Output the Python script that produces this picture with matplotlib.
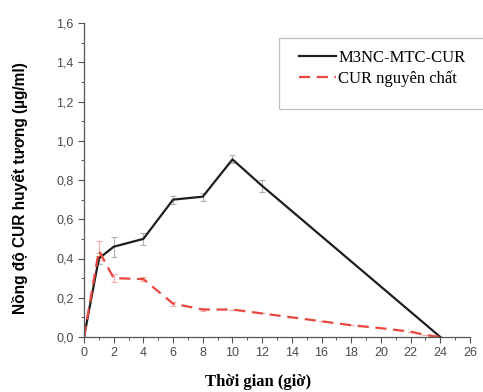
import matplotlib
matplotlib.use("Agg")
import matplotlib.pyplot as plt
from matplotlib.ticker import MultipleLocator, FuncFormatter
from matplotlib.patches import Rectangle

# Data
t_m3nc = [0, 1, 2, 4, 6, 8, 10, 12, 24]
y_m3nc = [0.0, 0.40, 0.46, 0.50, 0.70, 0.715, 0.905, 0.77, 0.0]
e_m3nc = [0.0, 0.03, 0.05, 0.03, 0.02, 0.02, 0.02, 0.03, 0.0]

t_cur = [0, 1, 2, 4, 6, 8, 10, 12, 14, 16, 18, 20, 22, 23, 24]
y_cur = [0.0, 0.44, 0.30, 0.295, 0.17, 0.14, 0.14, 0.12, 0.10, 0.08, 0.06, 0.045, 0.027, 0.01, 0.0]
e_cur = [0.0, 0.05, 0.02, 0.01, 0.01, 0.01, 0.0, 0.0, 0.0, 0.0, 0.0, 0.0, 0.0, 0.0, 0.0]

labels = ["M3NC-MTC-CUR", "CUR nguyên chất"]
xlabel = "Thời gian (giờ)"
ylabel = "Nồng độ CUR huyết tương (µg/ml)"

W, H = 483, 392
fig = plt.figure(figsize=(W / 100, H / 100), dpi=100)
ax = fig.add_axes([84 / W, 1 - 337 / H, 386 / W, 314 / H])

ax.errorbar(t_m3nc, y_m3nc, yerr=e_m3nc, fmt='none', ecolor='#b0b0b0', elinewidth=0.8, capsize=2, capthick=0.8)
ax.errorbar(t_cur, y_cur, yerr=e_cur, fmt='none', ecolor='#f4a8a8', elinewidth=0.8, capsize=2, capthick=0.8)
l1, = ax.plot(t_m3nc, y_m3nc, color='#1e1e1e', lw=1.6, label=labels[0])
l2, = ax.plot(t_cur, y_cur, color='#e8473f', lw=1.6, ls=(0, (5, 3)), label=labels[1])

ax.set_xlim(0, 26)
ax.set_ylim(0, 1.6)
ax.xaxis.set_major_locator(MultipleLocator(2))
ax.xaxis.set_minor_locator(MultipleLocator(1))
ax.yaxis.set_major_locator(MultipleLocator(0.2))
ax.yaxis.set_minor_locator(MultipleLocator(0.1))
ax.yaxis.set_major_formatter(FuncFormatter(lambda v, p: f"{v:.1f}".replace('.', ',')))

for s in ['top', 'right']:
    ax.spines[s].set_visible(False)
for s in ['left', 'bottom']:
    ax.spines[s].set_color('#555555')
    ax.spines[s].set_linewidth(0.9)
ax.tick_params(which='major', direction='out', length=4, width=0.8, color='#555555',
               labelsize=9, labelcolor='#4a4a4a', pad=3.5)
ax.tick_params(which='minor', direction='out', length=2, width=0.7, color='#555555')
for lab in ax.get_xticklabels() + ax.get_yticklabels():
    lab.set_family('Liberation Sans')

ax.set_xlabel(xlabel, family='Liberation Serif', fontweight='bold', fontsize=12, va='top')
ax.xaxis.set_label_coords(0.452, -0.118)
ax.set_ylabel(ylabel, family='Liberation Sans', fontweight='bold', fontsize=11.2)
ax.yaxis.set_label_coords(-0.145, 0.475)

# legend frame
fig.add_artist(Rectangle((279 / W, 1 - 109 / H), (W + 5 - 279) / W, 71 / H,
                         transform=fig.transFigure, facecolor='white',
                         edgecolor='#c0c0c0', lw=0.9, zorder=5))
leg = fig.legend(handles=[l1, l2], loc='upper left', bbox_to_anchor=(299 / W, 1 - 50 / H),
                 prop={'family': 'Liberation Serif', 'size': 12}, frameon=False,
                 handlelength=2.2, borderpad=0, labelspacing=0.25, handletextpad=0.15,
                 borderaxespad=0)
leg.set_zorder(6)

fig.savefig("out.png", dpi=100)
